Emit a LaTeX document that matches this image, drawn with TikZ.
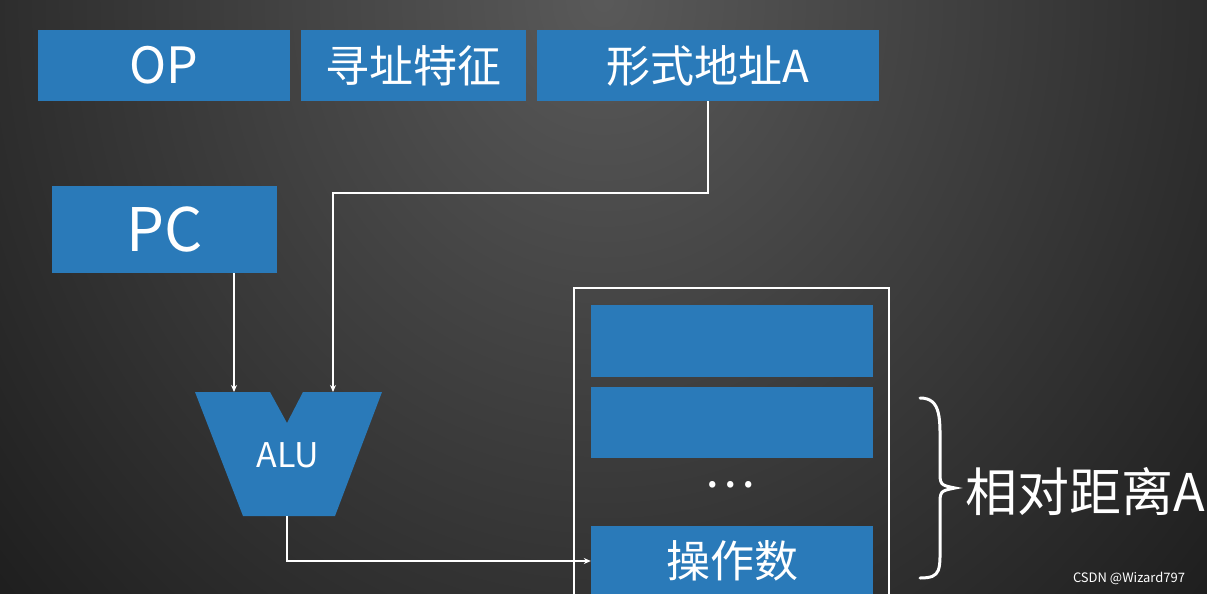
\documentclass[tikz,border=0pt]{standalone}
\usepackage{fontspec}
\setmainfont{Noto Sans CJK SC}
\usetikzlibrary{arrows.meta}
\definecolor{cellblue}{HTML}{2A7AB9}
\tikzset{
  cell/.style={fill=cellblue, draw=none, text=white, inner sep=0pt},
  wire/.style={draw=white, line width=1.2pt},
  arrowwire/.style={wire, -{Stealth[length=7pt,width=6pt]}}
}
\begin{document}
\begin{tikzpicture}[x=1pt, y=-1pt]
  % background
  \useasboundingbox (0,0) rectangle (1207,594);
  \shade[inner color=gray!70!black, outer color=black!88] (-200,-900) rectangle (1407,900);
  \clip (0,0) rectangle (1207,594);

  % instruction fields
  \node[cell, minimum width=252pt, minimum height=71pt, font=\fontsize{50}{50}\selectfont] (op) at (164,65.5) {OP};
  \node[cell, minimum width=225pt, minimum height=71pt, font=\fontsize{44}{44}\selectfont] (mode) at (413.5,65.5) {寻址特征};
  \node[cell, minimum width=342pt, minimum height=71pt, font=\fontsize{44}{44}\selectfont] (addr) at (708,65.5) {形式地址A};

  % program counter
  \node[cell, minimum width=225pt, minimum height=87pt, font=\fontsize{60}{60}\selectfont] (pc) at (164.5,229.5) {PC};

  % ALU
  \fill[cellblue] (195,392) -- (270,392) -- (287,423) -- (303,392) -- (382,392) -- (335,516) -- (243,516) -- cycle;
  \node[text=white, font=\fontsize{34}{34}\selectfont] (alu) at (288,455) {ALU};
  \coordinate (aluinl) at (234,392);
  \coordinate (aluinr) at (333,392);
  \coordinate (aluout) at (287,516);

  % memory
  \draw[white, line width=1.2pt] (574,288) rectangle (889,620);
  \node[cell, minimum width=282pt, minimum height=72pt] (m1) at (732,341) {};
  \node[cell, minimum width=282pt, minimum height=71pt] (m2) at (732,422.5) {};
  \node[text=white, font=\fontsize{48}{48}\selectfont] (dots) at (730,485) {\dots};
  \node[cell, minimum width=282pt, minimum height=70pt, anchor=north, font=\fontsize{44}{44}\selectfont] (opnd) at (732,526) {操作数};

  % distance
  \draw[white, line width=3pt, line cap=round] (920,398) .. controls (942,398) and (940,420) .. (940,450) -- (940,470) .. controls (940,485) .. (955,488) .. controls (940,491) .. (940,506) -- (940,540) .. controls (940,570) and (942,578) .. (920,578);
  \node[text=white, anchor=west, font=\fontsize{52}{52}\selectfont] (dist) at (962,492) {相对距离A};

  % connections
  \draw[arrowwire] (addr.south) |- (333,193) -- (aluinr);
  \draw[arrowwire] (pc.south -| aluinl) -- (aluinl);
  \draw[arrowwire] (aluout) |- (opnd.west |- 0,561);

  \node[text=white, font=\fontsize{13}{13}\selectfont] (mark) at (1129,578) {CSDN @Wizard797};
\end{tikzpicture}
\end{document}
